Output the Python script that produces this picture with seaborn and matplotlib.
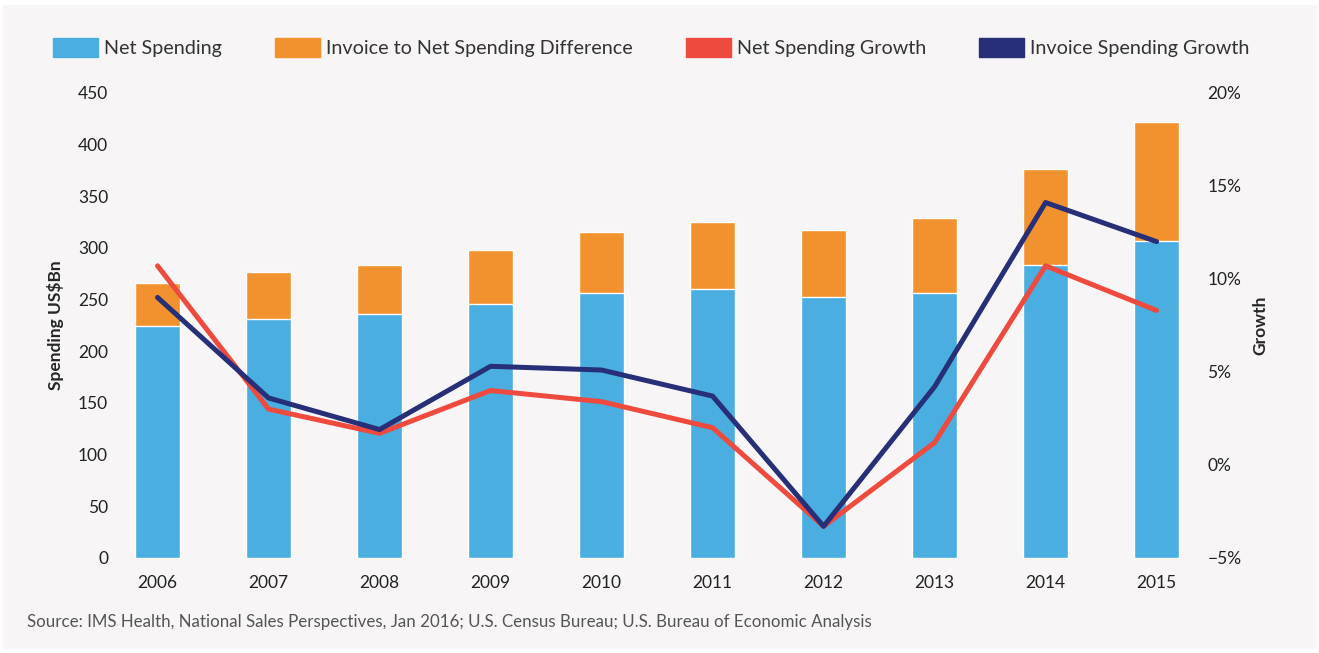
import numpy as np
import pandas as pd
import matplotlib
matplotlib.use("Agg")
import matplotlib.pyplot as plt
import matplotlib.patches as mpatches
import seaborn as sns

# Values
years = ["2006", "2007", "2008", "2009", "2010", "2011", "2012", "2013", "2014", "2015"]
net_spending = [224, 231, 236, 246, 256, 260, 252, 256, 283, 307]
invoice_spending = [266, 277, 283, 298, 315, 325, 317, 329, 376, 422]
net_growth = [10.7, 3.0, 1.7, 4.0, 3.4, 2.0, -3.3, 1.2, 10.7, 8.3]
invoice_growth = [9.0, 3.6, 1.9, 5.3, 5.1, 3.7, -3.3, 4.2, 14.1, 12.0]

left_ticks = list(range(0, 451, 50))
right_ticks = [-5, 0, 5, 10, 15, 20]

BLUE = "#4aaee0"
ORANGE = "#f2922e"
RED = "#ee4a3e"
NAVY = "#262f78"
PANEL = "#f7f5f6"

sns.set_style("white")
plt.rcParams["font.family"] = ["Lato", "DejaVu Sans"]

df = pd.DataFrame({"year": years, "net": net_spending, "invoice": invoice_spending,
                   "net_g": net_growth, "inv_g": invoice_growth})

fig = plt.figure(figsize=(13.19, 6.53), dpi=100)
fig.patch.set_facecolor("white")
# light panel behind the chart
fig.add_artist(mpatches.Rectangle((3 / 1319, 5 / 653), 1313 / 1319, 643 / 653,
                                  transform=fig.transFigure, color=PANEL, zorder=0))

ax = fig.add_axes([0.0925, 0.1455, 0.8155, 0.7125])
ax.set_facecolor("none")

# stacked bars: total invoice first (orange), net on top of it (blue)
sns.barplot(data=df, x="year", y="invoice", color=ORANGE, width=0.4,
            saturation=1, ax=ax)
sns.barplot(data=df, x="year", y="net", color=BLUE, width=0.4,
            saturation=1, ax=ax)

ax.set_ylim(0, 450)
ax.set_yticks(left_ticks)
ax.set_xlim(-0.32, 9.37)
ax.set_xlabel("")
ax.set_ylabel("Spending US$Bn", fontsize=12.5, fontweight="bold", labelpad=10)
ax.tick_params(axis="both", length=0, labelsize=12.5, colors="#222222")
ax.tick_params(axis="x", pad=12)
ax.tick_params(axis="y", pad=10)
for s in ax.spines.values():
    s.set_visible(False)

ax2 = ax.twinx()
x_pos = np.arange(len(years))
sns.lineplot(x=x_pos, y=net_growth, color=RED, lw=3.6, ax=ax2)
sns.lineplot(x=x_pos, y=invoice_growth, color=NAVY, lw=3.6, ax=ax2)
ax2.set_ylim(-5, 20)
ax2.set_yticks(right_ticks)
ax2.set_yticklabels([f"{'\u2212' if t < 0 else ''}{abs(t)}%" for t in right_ticks])
ax2.set_ylabel("Growth", fontsize=12.5, fontweight="bold", labelpad=8)
ax2.tick_params(axis="y", length=0, labelsize=12.5, colors="#222222", pad=7)
for s in ax2.spines.values():
    s.set_visible(False)

handles = [mpatches.Patch(color=BLUE, label="Net Spending"),
           mpatches.Patch(color=ORANGE, label="Invoice to Net Spending Difference"),
           mpatches.Patch(color=RED, label="Net Spending Growth"),
           mpatches.Patch(color=NAVY, label="Invoice Spending Growth")]
leg = fig.legend(handles=handles, loc="center left", bbox_to_anchor=(0.040, 0.927),
                 ncol=4, frameon=False, fontsize=14.2, handlelength=2.28,
                 handleheight=1.12, handletextpad=0.3, columnspacing=2.7,
                 borderaxespad=0, borderpad=0)
for t in leg.get_texts():
    t.set_color("#333333")

fig.text(27 / 1319, 1 - 622 / 653, "Source: IMS Health, National Sales Perspectives, Jan 2016; "
         "U.S. Census Bureau; U.S. Bureau of Economic Analysis",
         fontsize=12.2, color="#555555", va="center", ha="left")

fig.savefig("out.png", dpi=100, facecolor=fig.get_facecolor())
